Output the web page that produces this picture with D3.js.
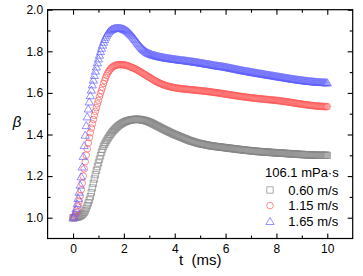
<!DOCTYPE html>
<html>
<head>
<meta charset="utf-8">
<script src="https://cdn.jsdelivr.net/npm/d3@7/dist/d3.min.js"></script>
<style>
  body { margin: 0; background: #fff; }
  text { font-family: "Liberation Sans", Arial, sans-serif; }
</style>
</head>
<body>
<script>
const width = 363, height = 276;
const margin = { top: 9.7, right: 10.3, bottom: 37.5, left: 47.6 };

// frames were taken every 0.04 ms, starting at t = 0
const dt = 0.04;

// beta, one value per frame (0 .. 10 ms)
const beta060 = [
  1.000, 1.000, 1.001, 1.002, 1.003, 1.004, 1.006, 1.008, 1.011, 1.015,
  1.019, 1.026, 1.034, 1.045, 1.058, 1.071, 1.085, 1.101, 1.121, 1.143,
  1.165, 1.186, 1.207, 1.227, 1.246, 1.263, 1.281, 1.298, 1.315, 1.330,
  1.343, 1.353, 1.362, 1.371, 1.379, 1.387, 1.394, 1.401, 1.408, 1.414,
  1.420, 1.425, 1.430, 1.435, 1.439, 1.443, 1.447, 1.450, 1.453, 1.456,
  1.459, 1.461, 1.463, 1.465, 1.467, 1.468, 1.469, 1.470, 1.471, 1.472,
  1.472, 1.473, 1.473, 1.473, 1.473, 1.472, 1.472, 1.471, 1.470, 1.469,
  1.468, 1.467, 1.465, 1.464, 1.462, 1.460, 1.458, 1.456, 1.453, 1.451,
  1.448, 1.446, 1.443, 1.441, 1.438, 1.436, 1.433, 1.431, 1.428, 1.426,
  1.423, 1.421, 1.418, 1.416, 1.414, 1.411, 1.409, 1.407, 1.404, 1.402,
  1.400, 1.398, 1.396, 1.394, 1.392, 1.390, 1.388, 1.386, 1.384, 1.382,
  1.380, 1.378, 1.376, 1.374, 1.372, 1.370, 1.369, 1.367, 1.366, 1.364,
  1.363, 1.361, 1.360, 1.358, 1.357, 1.356, 1.355, 1.354, 1.353, 1.352,
  1.351, 1.350, 1.349, 1.348, 1.347, 1.346, 1.345, 1.345, 1.344, 1.343,
  1.343, 1.342, 1.341, 1.341, 1.340, 1.340, 1.339, 1.338, 1.338, 1.337,
  1.336, 1.336, 1.335, 1.334, 1.334, 1.333, 1.333, 1.332, 1.331, 1.331,
  1.330, 1.330, 1.329, 1.328, 1.328, 1.327, 1.327, 1.326, 1.325, 1.325,
  1.324, 1.324, 1.323, 1.323, 1.322, 1.322, 1.321, 1.321, 1.320, 1.320,
  1.319, 1.319, 1.318, 1.318, 1.318, 1.317, 1.317, 1.316, 1.316, 1.316,
  1.315, 1.315, 1.315, 1.314, 1.314, 1.314, 1.313, 1.313, 1.313, 1.312,
  1.312, 1.312, 1.311, 1.311, 1.311, 1.310, 1.310, 1.310, 1.309, 1.309,
  1.309, 1.308, 1.308, 1.308, 1.307, 1.307, 1.307, 1.306, 1.306, 1.306,
  1.305, 1.305, 1.305, 1.304, 1.304, 1.304, 1.304, 1.303, 1.303, 1.303,
  1.303, 1.302, 1.302, 1.302, 1.302, 1.301, 1.301, 1.301, 1.301, 1.301,
  1.300, 1.300, 1.300, 1.300, 1.300, 1.300, 1.300, 1.300, 1.300, 1.300,
  1.300
];

const beta115 = [
  1.000, 1.005, 1.013, 1.025, 1.040, 1.058, 1.080, 1.105, 1.134, 1.166,
  1.200, 1.235, 1.269, 1.301, 1.331, 1.359, 1.385, 1.409, 1.431, 1.452,
  1.472, 1.492, 1.511, 1.529, 1.547, 1.564, 1.581, 1.597, 1.612, 1.627,
  1.645, 1.659, 1.672, 1.684, 1.694, 1.703, 1.710, 1.716, 1.721, 1.725,
  1.728, 1.731, 1.733, 1.734, 1.735, 1.736, 1.736, 1.736, 1.736, 1.735,
  1.735, 1.734, 1.733, 1.732, 1.730, 1.728, 1.726, 1.724, 1.722, 1.720,
  1.718, 1.716, 1.713, 1.711, 1.708, 1.705, 1.702, 1.699, 1.696, 1.693,
  1.690, 1.687, 1.684, 1.681, 1.678, 1.675, 1.672, 1.669, 1.666, 1.663,
  1.660, 1.657, 1.654, 1.652, 1.649, 1.647, 1.645, 1.643, 1.641, 1.639,
  1.637, 1.636, 1.634, 1.633, 1.631, 1.630, 1.629, 1.628, 1.627, 1.626,
  1.625, 1.624, 1.623, 1.622, 1.622, 1.621, 1.620, 1.620, 1.619, 1.619,
  1.618, 1.618, 1.617, 1.617, 1.616, 1.616, 1.615, 1.615, 1.614, 1.614,
  1.613, 1.613, 1.612, 1.612, 1.611, 1.611, 1.610, 1.610, 1.609, 1.609,
  1.608, 1.608, 1.607, 1.606, 1.606, 1.605, 1.604, 1.604, 1.603, 1.602,
  1.602, 1.601, 1.600, 1.600, 1.599, 1.598, 1.597, 1.597, 1.596, 1.595,
  1.594, 1.594, 1.593, 1.592, 1.591, 1.590, 1.590, 1.589, 1.588, 1.587,
  1.587, 1.586, 1.585, 1.584, 1.584, 1.583, 1.582, 1.582, 1.581, 1.580,
  1.580, 1.579, 1.578, 1.578, 1.577, 1.577, 1.576, 1.575, 1.575, 1.574,
  1.574, 1.573, 1.573, 1.572, 1.572, 1.571, 1.571, 1.570, 1.570, 1.569,
  1.569, 1.568, 1.568, 1.567, 1.567, 1.566, 1.566, 1.565, 1.565, 1.564,
  1.564, 1.563, 1.563, 1.562, 1.561, 1.561, 1.560, 1.559, 1.559, 1.558,
  1.557, 1.557, 1.556, 1.555, 1.554, 1.554, 1.553, 1.552, 1.551, 1.550,
  1.550, 1.549, 1.548, 1.547, 1.547, 1.546, 1.545, 1.544, 1.544, 1.543,
  1.542, 1.542, 1.541, 1.540, 1.540, 1.539, 1.539, 1.538, 1.538, 1.537,
  1.537, 1.536, 1.536, 1.536, 1.535, 1.535, 1.535, 1.534, 1.534, 1.534,
  1.534
];

const beta165 = [
  1.000, 1.008, 1.024, 1.045, 1.068, 1.094, 1.124, 1.158, 1.198, 1.245,
  1.296, 1.348, 1.398, 1.444, 1.486, 1.524, 1.558, 1.588, 1.615, 1.640,
  1.663, 1.685, 1.706, 1.726, 1.746, 1.765, 1.783, 1.800, 1.816, 1.831,
  1.845, 1.858, 1.869, 1.879, 1.887, 1.894, 1.899, 1.903, 1.906, 1.908,
  1.910, 1.911, 1.912, 1.912, 1.913, 1.912, 1.912, 1.911, 1.910, 1.909,
  1.907, 1.905, 1.902, 1.899, 1.895, 1.891, 1.886, 1.881, 1.876, 1.870,
  1.864, 1.858, 1.851, 1.845, 1.838, 1.832, 1.826, 1.820, 1.815, 1.810,
  1.806, 1.802, 1.798, 1.795, 1.792, 1.790, 1.788, 1.786, 1.784, 1.783,
  1.781, 1.780, 1.778, 1.777, 1.776, 1.775, 1.774, 1.773, 1.772, 1.771,
  1.770, 1.769, 1.768, 1.768, 1.767, 1.766, 1.765, 1.765, 1.764, 1.763,
  1.762, 1.762, 1.761, 1.760, 1.760, 1.759, 1.758, 1.758, 1.757, 1.757,
  1.756, 1.755, 1.755, 1.754, 1.753, 1.753, 1.752, 1.751, 1.751, 1.750,
  1.749, 1.748, 1.748, 1.747, 1.746, 1.745, 1.744, 1.743, 1.743, 1.742,
  1.741, 1.740, 1.739, 1.738, 1.738, 1.737, 1.736, 1.735, 1.734, 1.733,
  1.732, 1.732, 1.731, 1.730, 1.730, 1.729, 1.728, 1.727, 1.727, 1.726,
  1.725, 1.724, 1.723, 1.722, 1.721, 1.720, 1.719, 1.718, 1.717, 1.716,
  1.715, 1.714, 1.713, 1.712, 1.711, 1.710, 1.709, 1.708, 1.707, 1.706,
  1.706, 1.705, 1.704, 1.703, 1.702, 1.701, 1.700, 1.699, 1.698, 1.698,
  1.697, 1.696, 1.695, 1.694, 1.693, 1.693, 1.692, 1.691, 1.690, 1.689,
  1.688, 1.688, 1.687, 1.686, 1.685, 1.684, 1.684, 1.683, 1.682, 1.681,
  1.680, 1.679, 1.679, 1.678, 1.677, 1.676, 1.675, 1.675, 1.674, 1.673,
  1.672, 1.671, 1.670, 1.670, 1.669, 1.668, 1.667, 1.667, 1.666, 1.665,
  1.664, 1.664, 1.663, 1.662, 1.662, 1.661, 1.660, 1.660, 1.659, 1.658,
  1.658, 1.657, 1.657, 1.656, 1.656, 1.655, 1.655, 1.654, 1.654, 1.653,
  1.653, 1.653, 1.652, 1.652, 1.652, 1.651, 1.651, 1.651, 1.650, 1.650,
  1.650
];

const seriesLabels = ['0.60 m/s', '1.15 m/s', '1.65 m/s'];
const legendTitle = '106.1 mPa\u00b7s';
const xMajor = [0, 2, 4, 6, 8, 10];
const xMinor = [1, 3, 5, 7, 9];
const yMajor = [1.0, 1.2, 1.4, 1.6, 1.8, 2.0];
const yMinor = [1.1, 1.3, 1.5, 1.7, 1.9];

const colors = ['#868686', '#ff5c5c', '#6262ff'];
const shapes = {
  square: 'M-3.2,-3.2H3.2V3.2H-3.2Z',
  circle: 'M3.3,0A3.3,3.3 0 1,1 -3.3,0A3.3,3.3 0 1,1 3.3,0Z',
  triangle: 'M0,-3.8L4.1,3.3H-4.1Z'
};
const series = [
  { values: beta060, shape: 'square' },
  { values: beta115, shape: 'circle' },
  { values: beta165, shape: 'triangle' }
];

const svg = d3.select('body').append('svg')
    .attr('width', width)
    .attr('height', height);

const iw = width - margin.left - margin.right;
const ih = height - margin.top - margin.bottom;

const x = d3.scaleLinear().domain([-1, 11]).range([0, iw]);
const y = d3.scaleLinear().domain([0.9, 2.0]).range([ih, 0]);

const g = svg.append('g')
    .attr('transform', `translate(${margin.left},${margin.top})`);

// data markers
series.forEach((s, k) => {
  g.append('g')
    .selectAll('path')
    .data(s.values.map((b, i) => [i * dt, b]))
    .join('path')
      .attr('d', shapes[s.shape])
      .attr('transform', d => `translate(${x(d[0])},${y(d[1])})`)
      .attr('fill', 'none')
      .attr('stroke', colors[k])
      .attr('stroke-width', 0.7);
});

// axes, ticks pointing inwards on all four sides
function styleAxis(sel) {
  sel.select('.domain').remove();
  sel.selectAll('line').attr('stroke', '#000').attr('stroke-width', 1.1);
  sel.selectAll('text').attr('fill', '#000').style('font-size', '12px')
     .style('font-family', '"Liberation Sans", Arial, sans-serif');
}

g.append('g').attr('transform', `translate(0,${ih})`)
  .call(d3.axisBottom(x).tickValues(xMajor).tickFormat(d3.format('d')).tickSize(-5).tickPadding(5.5))
  .call(styleAxis);
g.append('g').attr('transform', `translate(0,${ih})`)
  .call(d3.axisBottom(x).tickValues(xMinor).tickFormat('').tickSize(-3))
  .call(styleAxis);
g.append('g')
  .call(d3.axisTop(x).tickValues(xMajor).tickFormat('').tickSize(-5))
  .call(styleAxis);
g.append('g')
  .call(d3.axisTop(x).tickValues(xMinor).tickFormat('').tickSize(-3))
  .call(styleAxis);

g.append('g')
  .call(d3.axisLeft(y).tickValues(yMajor).tickFormat(d3.format('.1f')).tickSize(-5).tickPadding(4.5))
  .call(styleAxis);
g.append('g')
  .call(d3.axisLeft(y).tickValues(yMinor).tickFormat('').tickSize(-3))
  .call(styleAxis);
g.append('g').attr('transform', `translate(${iw},0)`)
  .call(d3.axisRight(y).tickValues(yMajor).tickFormat('').tickSize(-5))
  .call(styleAxis);
g.append('g').attr('transform', `translate(${iw},0)`)
  .call(d3.axisRight(y).tickValues(yMinor).tickFormat('').tickSize(-3))
  .call(styleAxis);

g.append('rect')
  .attr('width', iw)
  .attr('height', ih)
  .attr('fill', 'none')
  .attr('stroke', '#000')
  .attr('stroke-width', 1.2);

// axis titles
svg.append('text')
  .attr('x', margin.left + iw / 2)
  .attr('y', 265)
  .attr('text-anchor', 'middle')
  .style('font-size', '15px')
  .style('white-space', 'pre')
  .text('t  (ms)');

svg.append('text')
  .attr('x', 17)
  .attr('y', 127)
  .attr('text-anchor', 'middle')
  .style('font-size', '15px')
  .style('font-style', 'italic')
  .text('\u03b2');

// legend
const legend = svg.append('g');
legend.append('text')
  .attr('x', 265)
  .attr('y', 176.5)
  .style('font-size', '13px')
  .text(legendTitle);

seriesLabels.forEach((lab, k) => {
  const ly = 190 + k * 15.6;
  legend.append('path')
    .attr('d', shapes[series[k].shape])
    .attr('transform', `translate(270,${ly})`)
    .attr('fill', 'none')
    .attr('stroke', colors[k])
    .attr('stroke-width', 0.7);
  legend.append('text')
    .attr('x', 288.3)
    .attr('y', ly + 4.6)
    .style('font-size', '13px')
    .text(lab);
});
</script>
</body>
</html>
